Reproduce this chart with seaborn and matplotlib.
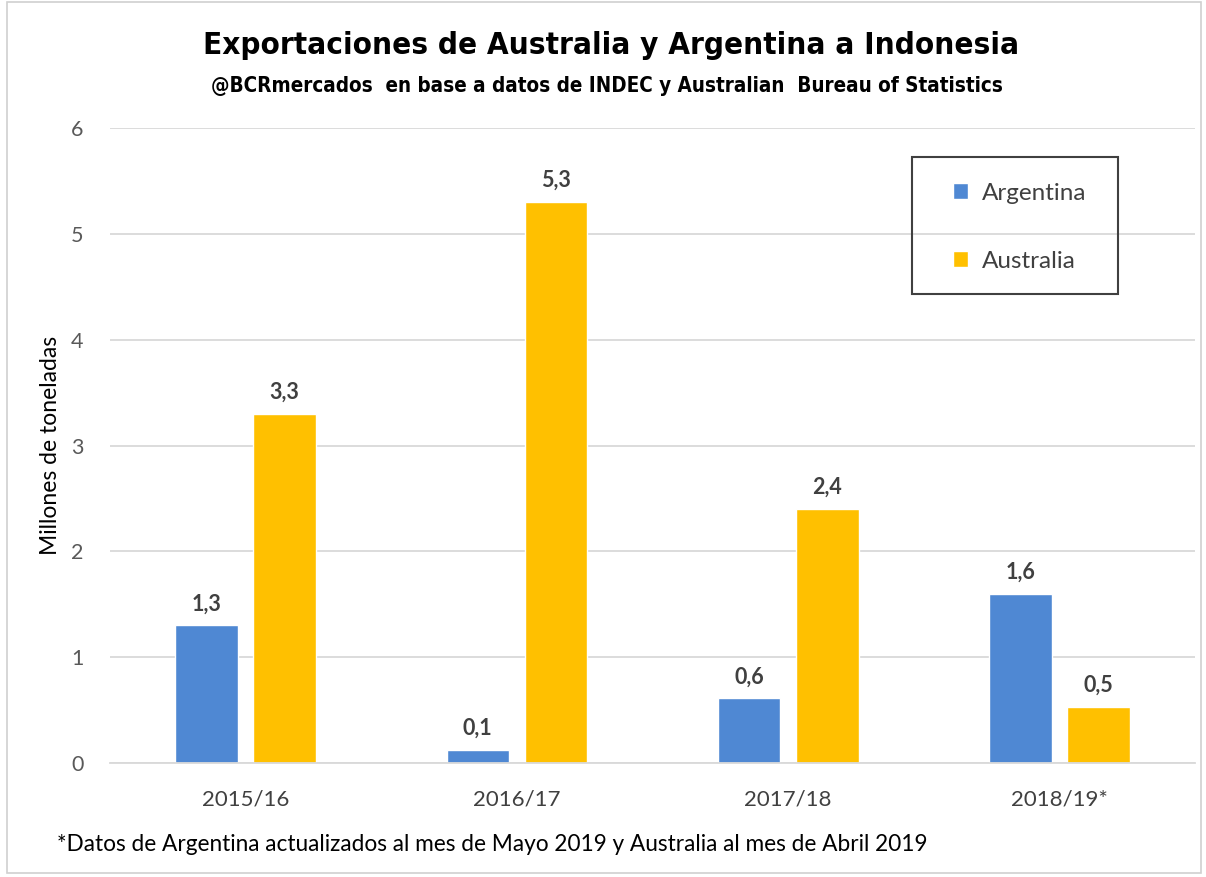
import numpy as np
import pandas as pd
import matplotlib
matplotlib.use("Agg")
import matplotlib.pyplot as plt
from matplotlib.patches import Rectangle
import seaborn as sns

# datos (millones de toneladas)
campanias = ["2015/16", "2016/17", "2017/18", "2018/19*"]
argentina = [1.3, 0.12, 0.61, 1.6]
australia = [3.3, 5.3, 2.4, 0.53]
paises = ["Argentina", "Australia"]
colores = ["#4F88D3", "#FFC000"]

df = pd.DataFrame({
    "campania": campanias * 2,
    "pais": [paises[0]] * 4 + [paises[1]] * 4,
    "valor": argentina + australia,
})

sns.set_theme(style="white")
plt.rcParams["font.family"] = ["Lato", "DejaVu Sans"]

fig = plt.figure(figsize=(12.06, 8.77), dpi=100)
ax = fig.add_axes([0.0912, 0.130, 0.8998, 0.724])

sns.barplot(data=df, x="campania", y="valor", hue="pais", palette=colores,
            width=0.576, gap=0.2, saturation=1, ax=ax, legend=True)

ax.set_ylim(0, 6)
ax.set_xlim(-0.5, 3.5)
ax.set_yticks(range(0, 7))
ax.yaxis.grid(True, color="#D9D9D9", linewidth=1.3)
ax.set_axisbelow(True)
for s in ["top", "right", "left"]:
    ax.spines[s].set_visible(False)
ax.spines["bottom"].set_color("#D9D9D9")
ax.spines["bottom"].set_linewidth(1.3)
ax.tick_params(axis="y", colors="#595959", labelsize=15.5, length=0, pad=19)
ax.tick_params(axis="x", colors="#404040", labelsize=16, length=0, pad=19)
ax.set_xlabel("")
ax.set_ylabel("Millones de toneladas", fontsize=16.5, color="#000000", labelpad=7)

for cont in ax.containers:
    ax.bar_label(cont, labels=[f"{v:.1f}".replace(".", ",") for v in cont.datavalues],
                 padding=8, fontsize=15.5, fontweight="bold", color="#404040")

# leyenda sin marco; el recuadro se dibuja aparte porque es mas ancho que su contenido
leg = ax.legend(loc="upper left", bbox_to_anchor=(927 / 1206, 1 - 157 / 877),
                bbox_transform=fig.transFigure, frameon=False,
                fontsize=17.5, handlelength=0.65, handleheight=0.65,
                handletextpad=0.55, labelspacing=1.95, borderpad=1.05,
                borderaxespad=0)
for t in leg.get_texts():
    t.set_color("#404040")
fig.patches.append(Rectangle((912 / 1206, 1 - 294 / 877), 206 / 1206, 137 / 877,
                             transform=fig.transFigure, fill=False,
                             edgecolor="#404040", linewidth=1.5, zorder=5))

fig.text(0.507, 0.948, "Exportaciones de Australia y Argentina a Indonesia",
         ha="center", va="center", fontsize=22.5, fontweight="bold",
         fontfamily="DejaVu Sans", fontstretch="condensed", color="#000000")
fig.text(0.503, 0.902, "@BCRmercados  en base a datos de INDEC y Australian  Bureau of Statistics",
         ha="center", va="center", fontsize=14.8, fontweight="bold",
         fontfamily="DejaVu Sans", fontstretch="condensed", color="#000000")
fig.text(0.047, 0.037, "*Datos de Argentina actualizados al mes de Mayo 2019 y Australia al mes de Abril 2019",
         ha="left", va="center", fontsize=16.3, color="#000000")

fig.patches.append(Rectangle((0.006, 0.004), 0.99, 0.994, transform=fig.transFigure,
                             fill=False, edgecolor="#D0D0D0", linewidth=1.2))

fig.savefig("out.png", dpi=100)
